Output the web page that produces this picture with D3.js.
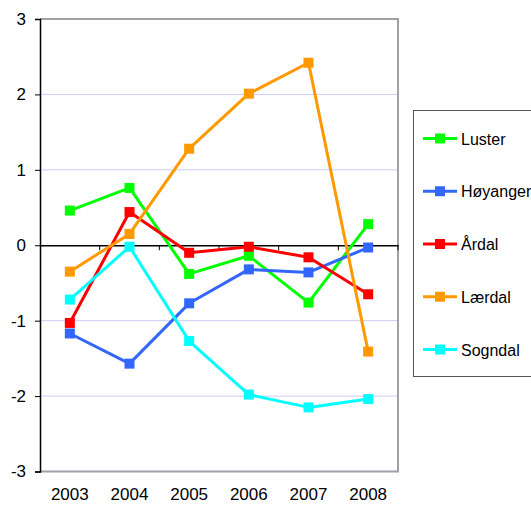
<!DOCTYPE html>
<html><head><meta charset="utf-8">
<script src="https://cdn.jsdelivr.net/npm/d3@7"></script>
<style>body{margin:0;background:#fff}svg{display:block;font-family:Arial,"Liberation Sans",sans-serif}</style>
</head><body><svg id="c" width="531" height="505"></svg>
<script>
const years = ["2003","2004","2005","2006","2007","2008"];
const seriesNames = ["Luster","Høyanger","Årdal","Lærdal","Sogndal"];
const colors = ["#00ff00","#3366ff","#ff0000","#ff9900","#00ffff"];
const luster   = [0.46, 0.76, -0.38, -0.14, -0.76, 0.28];
const hoyanger = [-1.17, -1.57, -0.77, -0.32, -0.36, -0.03];
const ardal    = [-1.03, 0.44, -0.10, -0.02, -0.16, -0.65];
const laerdal  = [-0.35, 0.15, 1.28, 2.01, 2.42, -1.41];
const sogndal  = [-0.72, -0.02, -1.27, -1.98, -2.15, -2.04];
const yTicks = [-3,-2,-1,0,1,2,3];
const values = [luster, hoyanger, ardal, laerdal, sogndal];

const FONT = "Arial,'Liberation Sans',sans-serif";
const svg = d3.select("#c");
const L=40, R=398, T=19, B=471.5;
const x = d3.scaleBand().domain(years).range([L,R]);
const y = d3.scaleLinear().domain([-3,3]).range([B,T]);

// gridlines
svg.append("g").selectAll("line").data(yTicks.filter(d=>d!==0 && Math.abs(d)!==3)).join("line")
  .attr("x1",L).attr("x2",R).attr("y1",d=>y(d)).attr("y2",d=>y(d))
  .attr("stroke","#ccccf5").attr("stroke-width",1);
// border top/right/bottom
svg.append("path").attr("d",`M${L},${y(3)}H${R}V${y(-3)}H${L}`).attr("fill","none")
  .attr("stroke","#a0a0a8").attr("stroke-width",2);

// y axis
const ya = svg.append("g").attr("transform",`translate(${L},0)`)
  .call(d3.axisLeft(y).tickValues(yTicks).tickSize(5).tickPadding(9).tickFormat(d=>String(d)));
ya.select(".domain").attr("stroke","#000").attr("stroke-width",1.5);
ya.selectAll(".tick line").attr("stroke","#000");
ya.selectAll("text").attr("font-size",17).attr("fill","#000").attr("font-family",FONT);

// x axis at zero
const xa = svg.append("g").attr("transform",`translate(0,${y(0)})`)
  .call(d3.axisBottom(x).tickSize(0).tickFormat(()=>""));
xa.select(".domain").attr("stroke","#000").attr("stroke-width",1.5);
const bounds = years.slice(1).map(d=>x(d)).concat([R]);
svg.append("g").selectAll("line").data(bounds).join("line")
  .attr("x1",d=>d).attr("x2",d=>d).attr("y1",y(0)).attr("y2",y(0)+5).attr("stroke","#000");
// x labels at bottom
svg.append("g").selectAll("text").data(years).join("text")
  .attr("x",d=>x(d)+x.bandwidth()/2).attr("y",500).attr("text-anchor","middle")
  .attr("font-size",17).attr("font-family",FONT).attr("fill","#000").text(d=>d);

// lines
const line = d3.line().x((d,i)=>x(years[i])+x.bandwidth()/2).y(d=>y(d));
values.forEach((vals,k)=>{
  const g = svg.append("g");
  g.append("path").datum(vals).attr("d",line).attr("fill","none")
    .attr("stroke",colors[k]).attr("stroke-width",3).attr("stroke-linejoin","round");
  g.selectAll("rect").data(vals).join("rect")
    .attr("x",(d,i)=>x(years[i])+x.bandwidth()/2-5).attr("y",d=>y(d)-5)
    .attr("width",10).attr("height",10).attr("fill",colors[k]);
});

// legend
const lg = svg.append("g");
lg.append("rect").attr("x",413.5).attr("y",110.5).attr("width",130).attr("height",266)
  .attr("fill","#fff").attr("stroke","#555").attr("stroke-width",1);
const ly = d3.scalePoint().domain(seriesNames).range([138.5,349.5]);
seriesNames.forEach((n,k)=>{
  const yy = ly(n);
  lg.append("line").attr("x1",423).attr("x2",457).attr("y1",yy).attr("y2",yy)
    .attr("stroke",colors[k]).attr("stroke-width",3);
  lg.append("rect").attr("x",435).attr("y",yy-5).attr("width",10).attr("height",10).attr("fill",colors[k]);
  lg.append("text").attr("x",461).attr("y",yy+6).attr("font-size",16).attr("font-family",FONT).attr("fill","#000").text(n);
});
</script></body></html>
